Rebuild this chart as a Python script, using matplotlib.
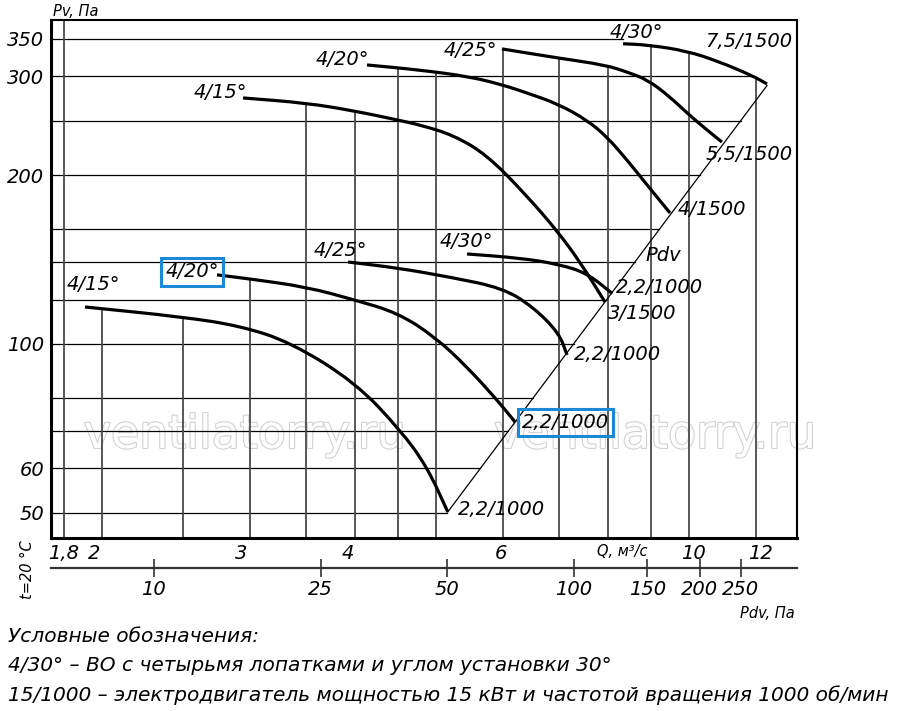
import numpy as np
import matplotlib.pyplot as plt
import matplotlib.patheffects as pe
from matplotlib.ticker import NullLocator
from matplotlib.path import Path
from matplotlib.patches import PathPatch
from matplotlib.transforms import ScaledTranslation

plt.rcParams['font.family'] = ['DejaVu Sans']
plt.rcParams['font.style'] = 'italic'

# --- FAN CURVES, Q (m3/s) vs Pv (Pa)
# lower group, 1000 rpm
q_a = [1.909, 2.5, 2.92, 3.349, 4.0, 4.53, 4.875, 5.16]
p_a = [116.4, 111.7, 107.7, 100.8, 85.5, 70.3, 60.4, 50.2]
q_b = [2.741, 3.0, 3.5, 4.0, 4.5, 4.984, 5.44, 5.906, 6.21]
p_b = [132.8, 130.6, 126.4, 119.8, 113.6, 102.9, 91.0, 79.5, 72.5]
q_c = [3.926, 4.5, 5.19, 6.0, 6.52, 7.0, 7.155]
p_c = [140.0, 136.6, 131.6, 125.8, 116.4, 104.6, 95.6]
q_d = [5.44, 6.29, 6.982, 7.556, 8.10]
p_d = [144.7, 142.3, 138.8, 133.8, 123.0]
# upper group, 1500 rpm
q_e = [2.944, 3.5, 4.0, 4.5, 4.782, 5.235, 5.746, 6.412, 6.982, 7.415, 7.94]
p_e = [274.5, 268.9, 260.2, 250.7, 245.7, 235.8, 217.3, 183.6, 158.3, 140.0, 118.8]
q_f = [4.135, 4.782, 5.483, 6.003, 6.412, 6.982, 7.556, 7.985, 8.435, 8.933, 9.489]
p_f = [314.3, 307.9, 299.5, 289.5, 280.2, 267.8, 250.7, 233.9, 212.8, 191.2, 171.2]
q_g = [5.987, 6.982, 7.94, 8.435, 8.933, 9.489, 9.94, 10.50, 10.94]
p_g = [335.7, 323.4, 314.3, 305.4, 295.5, 275.6, 258.1, 240.7, 229.1]
q_h = [8.343, 8.933, 9.94, 10.88, 11.91, 12.38]
p_h = [342.9, 341.2, 332.9, 318.2, 300.4, 290.7]

curve_names = ['A', 'B', 'C', 'D', 'E', 'F', 'G', 'H']
curve_q = [q_a, q_b, q_c, q_d, q_e, q_f, q_g, q_h]
curve_p = [p_a, p_b, p_c, p_d, p_e, p_f, p_g, p_h]
start_labels = ['4/15°', '4/20°', '4/25°', '4/30°', '4/15°', '4/20°', '4/25°', '4/30°']
end_labels = ['2,2/1000', '2,2/1000', '2,2/1000', '2,2/1000',
              '3/1500', '4/1500', '5,5/1500', '7,5/1500']
boxed_start = [False, True, False, False, False, False, False, False]
boxed_end = [False, True, False, False, False, False, False, False]

# label offsets in pixels from curve start / end
start_off = [(8, 22), (-25, 3), (-8, 12), (-1, 12), (-23, 5), (-25, 5), (-32, -2), (13, 11)]
end_off = [(54, 2), (50, 0), (50, 0), (47, 6), (37, -11), (42, 3), (27, -12), (-18, 42)]

# dynamic pressure Pdv = k * Q^2
PDV_K = 1.885
pdv_ticks = [10, 25, 50, 100, 150, 200, 250]

# grid
hgrid = [50, 60, 70, 80, 100, 120, 140, 160, 200, 250, 300, 350]
vgrid = [1.8, 2, 2.5, 3, 3.5, 4, 4.5, 5, 6, 7, 8, 9, 10, 12]
vgrid_top = [None, 'A', 'A', 'B', 'E', 'E', 'F', 'F', 'G', 'G', 'G', 'H', 'H', 'H']

yticks = [50, 60, 100, 200, 300, 350]
xticks = [1.8, 2, 3, 4, 6, 10, 12]
xtick_labels = ['1,8', '2', '3', '4', '6', '10', '12']
xtick_dx = [0, -8, -9, -7, -2, 4, 5]   # label nudges, pixels

QMIN, QMAX = 1.739, 13.44
PMIN, PMAX = 45.1, 378.0

blue = '#1a8ad6'


def curve_at(name, q):
    i = curve_names.index(name)
    lq = np.log10(curve_q[i])
    lp = np.log10(curve_p[i])
    return 10 ** np.interp(np.log10(q), lq, lp)


def smooth_path(qs, ps):
    # quadratic bezier through mid points (geometric means on log axes)
    pts = list(zip(qs, ps))
    mids = [(np.sqrt(a[0] * b[0]), np.sqrt(a[1] * b[1])) for a, b in zip(pts[:-1], pts[1:])]
    verts = [pts[0], mids[0]]
    codes = [Path.MOVETO, Path.LINETO]
    for k in range(1, len(pts) - 1):
        verts += [pts[k], mids[k]]
        codes += [Path.CURVE3, Path.CURVE3]
    verts.append(pts[-1])
    codes.append(Path.LINETO)
    return Path(verts, codes)


fig = plt.figure(figsize=(9, 7.11), dpi=100)
ax = fig.add_axes([51 / 900, 173 / 711, 746 / 900, 518 / 711])
ax.set_xscale('log')
ax.set_yscale('log')
ax.set_xlim(QMIN, QMAX)
ax.set_ylim(PMIN, PMAX)

# --- GRID LINES, cut at the Pdv line / the top curve
h_q = np.array(q_h)
h_p = np.array(p_h)
for p in hgrid:
    if p <= h_p[-1]:
        q_end = np.sqrt(p / PDV_K)
    elif p <= h_p.max():
        q_end = np.interp(p, h_p[::-1], h_q[::-1])
    else:
        q_end = h_q[0]
    ax.plot([QMIN, q_end], [p, p], color='black', lw=0.9, zorder=1)

for q, top in zip(vgrid, vgrid_top):
    p_top = PMAX if top is None else curve_at(top, q)
    ax.plot([q, q], [PMIN, p_top], color='#4a4a4a', lw=1.3, zorder=1)

# --- Pdv LINE
pdv_q = np.array([q_a[-1], q_h[-1]])
ax.plot(pdv_q, PDV_K * pdv_q ** 2, color='black', lw=0.9, zorder=2)
p_lab = 144
ax.annotate('Pdv', xy=(np.sqrt(p_lab / PDV_K), p_lab), xytext=(23, 0),
            textcoords='offset pixels', ha='center', va='center', fontsize=14)

# --- CURVES AND LABELS
for i in range(len(curve_q)):
    ax.add_patch(PathPatch(smooth_path(curve_q[i], curve_p[i]), fill=False,
                           edgecolor='black', lw=2.3, capstyle='butt', zorder=3))
    kw = dict(textcoords='offset pixels', ha='center', va='center', fontsize=14, zorder=4)
    bb = dict(boxstyle='square,pad=0.22', fc='none', ec=blue, lw=2.2)
    ax.annotate(start_labels[i], xy=(curve_q[i][0], curve_p[i][0]), xytext=start_off[i],
                bbox=bb if boxed_start[i] else None, **kw)
    ax.annotate(end_labels[i], xy=(curve_q[i][-1], curve_p[i][-1]), xytext=end_off[i],
                bbox=bb if boxed_end[i] else None, **kw)

# --- WATERMARK
for xw in [0.26, 0.81]:
    ax.text(xw, 0.198, 'ventilatorry.ru', transform=ax.transAxes, ha='center', va='center',
            fontsize=33, style='normal', color='white', zorder=0.5,
            path_effects=[pe.withStroke(linewidth=1.6, foreground='#d2d2d2')])

# --- AXES
ax.xaxis.set_minor_locator(NullLocator())
ax.yaxis.set_minor_locator(NullLocator())
ax.set_xticks(xticks, labels=xtick_labels)
ax.set_yticks(yticks, labels=[str(v) for v in yticks])
ax.tick_params(which='both', length=0, labelsize=14)
ax.tick_params(axis='x', pad=4)
ax.tick_params(axis='y', pad=5)
for lab, dx in zip(ax.get_xticklabels(), xtick_dx):
    lab.set_transform(lab.get_transform() + ScaledTranslation(dx / 100, 0, fig.dpi_scale_trans))
for s in ['left', 'bottom']:
    ax.spines[s].set_linewidth(2.2)
for s in ['top', 'right']:
    ax.spines[s].set_linewidth(1.5)

ax.text(8.32, -0.027, 'Q, м³/с', transform=ax.get_xaxis_transform(),
        ha='center', va='center', fontsize=10.5)
fig.text(53 / 900, 1 - 12 / 711, 'Pv, Па', ha='left', va='center', fontsize=10.5)
fig.text(27 / 900, 1 - 570 / 711, 't=20 °C', rotation=90, ha='center', va='center',
         fontsize=10.5)

# --- SECONDARY Pdv SCALE
sec = ax.secondary_xaxis(-0.058, functions=(lambda q: PDV_K * np.asarray(q) ** 2,
                                            lambda p: np.sqrt(np.clip(p, 1e-9, None) / PDV_K)))
sec.xaxis.set_minor_locator(NullLocator())
sec.set_xticks(pdv_ticks, labels=[str(v) for v in pdv_ticks])
sec.tick_params(direction='inout', length=13, width=1.2, labelsize=14, pad=2, color='#333333')
sec.spines['bottom'].set_linewidth(1.6)
sec.spines['bottom'].set_color('#333333')
fig.text(795 / 900, 1 - 613 / 711, 'Pdv, Па', ha='right', va='center', fontsize=10.5)

# --- LEGEND TEXT
legend_lines = ['Условные обозначения:',
                '4/30° – ВО с четырьмя лопатками и углом установки 30°',
                '15/1000 – электродвигатель мощностью 15 кВт и частотой вращения 1000 об/мин']
for j, line in enumerate(legend_lines):
    fig.text(8 / 900, 1 - (636 + 29.5 * j) / 711, line, ha='left', va='center', fontsize=14.5)

fig.savefig('out.png', dpi=100)
